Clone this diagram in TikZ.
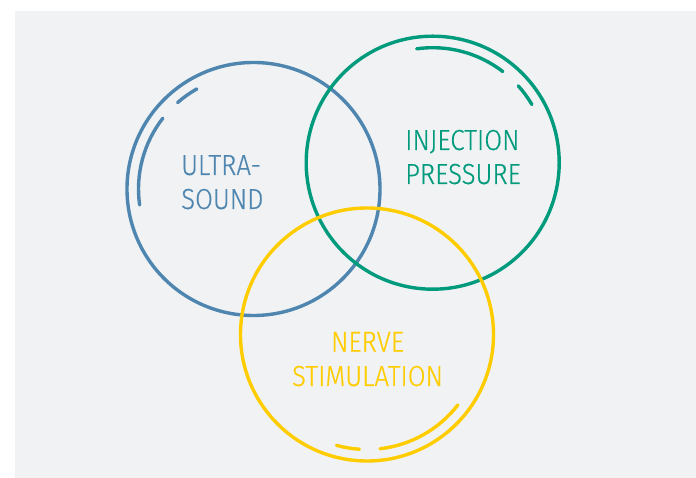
\documentclass[tikz,border=0pt]{standalone}
\usepackage{fontspec}
\setmainfont{Fira Sans}[UprightFont=* Light, FakeStretch=0.89, FakeBold=0.4]
\definecolor{bgray}{RGB}{241,242,244}
\definecolor{cblue}{RGB}{78,134,176}
\definecolor{cgreen}{RGB}{0,154,124}
\definecolor{cyellow}{RGB}{255,204,0}
\begin{document}
\begin{tikzpicture}[x=1pt,y=1pt,
  ring/.style={line width=3.4pt},
  inner arc/.style={line width=3.4pt, line cap=round},
  lbl/.style={inner sep=0pt, font=\fontsize{29}{34}\selectfont},
  ]
\useasboundingbox (0,0) rectangle (696,478);
\fill[white] (0,0) rectangle (696,478);
\fill[bgray] (15,0) rectangle (696,467);
% centres
\coordinate (cb) at (253.5,289);
\coordinate (cg) at (432.7,315.3);
\coordinate (cy) at (367,143.5);
% blue
\draw[ring, cblue] (cb) circle[radius=126.5];
\draw[inner arc, cblue] ([shift={(142:115)}]cb) arc[start angle=142, end angle=188, radius=115];
\draw[inner arc, cblue] ([shift={(119.5:115)}]cb) arc[start angle=119.5, end angle=131.3, radius=115];
% green
\draw[ring, cgreen] (cg) circle[radius=126.5];
\draw[inner arc, cgreen] ([shift={(52.4:115)}]cg) arc[start angle=52.4, end angle=98, radius=115];
\draw[inner arc, cgreen] ([shift={(30.4:115)}]cg) arc[start angle=30.4, end angle=41.9, radius=115];
% yellow
\draw[ring, cyellow] (cy) circle[radius=126.5];
\draw[inner arc, cyellow] ([shift={(-83.5:115)}]cy) arc[start angle=-83.5, end angle=-37.8, radius=115];
\draw[inner arc, cyellow] ([shift={(-105.4:115)}]cy) arc[start angle=-105.4, end angle=-93.8, radius=115];
% labels
\node[lbl, text=cblue, anchor=base west] (us1) at (181,303) {ULTRA-};
\node[lbl, text=cblue, anchor=base west] (us2) at (181,269) {SOUND};
\node[lbl, text=cgreen, anchor=base west] (ip1) at (405,328) {INJECTION};
\node[lbl, text=cgreen, anchor=base west] (ip2) at (405,294) {PRESSURE};
\node[lbl, text=cyellow, anchor=base] (ns1) at (367.5,126.3) {NERVE};
\node[lbl, text=cyellow, anchor=base] (ns2) at (367.5,92) {STIMULATION};
\end{tikzpicture}
\end{document}
